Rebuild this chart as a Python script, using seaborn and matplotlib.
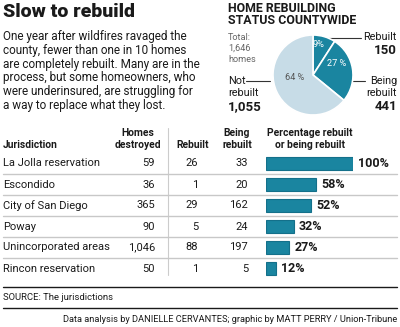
import matplotlib
matplotlib.use("Agg")
import matplotlib.pyplot as plt
import seaborn as sns
import pandas as pd

# ---- data ----
jurisdictions = ["La Jolla reservation", "Escondido", "City of San Diego", "Poway",
                 "Unincorporated areas", "Rincon reservation"]
destroyed = ["59", "36", "365", "90", "1,046", "50"]
rebuilt = ["26", "1", "29", "5", "88", "1"]
being_rebuilt = ["33", "20", "162", "24", "197", "5"]
pct = [100, 58, 52, 32, 27, 12]

pie_labels = ["Rebuilt", "Being rebuilt", "Not rebuilt"]
pie_values = [150, 441, 1055]
pie_pct_text = ["9%", "27 %", "64 %"]

sns.set_theme(style="white")
plt.rcParams["font.family"] = ["Roboto", "DejaVu Sans"]

W, H = 400, 327
fig = plt.figure(figsize=(4, 3.27), dpi=100)
ax = fig.add_axes([0, 0, 1, 1])
ax.set_xlim(0, W)
ax.set_ylim(H, 0)
ax.axis("off")

TEAL = "#1a85a0"
EDGE = "#14708a"
LIGHT = "#c7dce7"
GRAY_TXT = "#666666"
BLK = "#1a1a1a"

# ---- title and intro ----
ax.text(3, 12, "Slow to rebuild", fontsize=14, fontweight="heavy", color=BLK,
        va="center", ha="left")
intro = ["One year after wildfires ravaged the",
         "county, fewer than one in 10 homes",
         "are completely rebuilt. Many are in the",
         "process, but some homeowners, who",
         "were underinsured, are struggling for",
         "a way to replace what they lost."]
for i, line in enumerate(intro):
    ax.text(3, 36.5 + i * 13.8, line, fontsize=8.5, color=BLK, va="center", ha="left")

# ---- pie section ----
ax.text(228, 8, "HOME REBUILDING", fontsize=8.9, fontweight="bold", color=BLK, va="center")
ax.text(228, 21, "STATUS COUNTYWIDE", fontsize=8.9, fontweight="bold", color=BLK, va="center")
for i, t in enumerate(["Total:", "1,646", "homes"]):
    ax.text(228, 37 + i * 11.5, t, fontsize=6.6, color=GRAY_TXT, va="center")

cx, cy, r = 313, 75, 40
pax = fig.add_axes([(cx - r) / W, 1 - (cy + r) / H, 2 * r / W, 2 * r / H])
wedges, _ = pax.pie(pie_values, startangle=90, counterclock=False,
                    colors=[TEAL, TEAL, LIGHT],
                    wedgeprops=dict(edgecolor="white", linewidth=1.2))
pax.set_aspect("equal")
pax.set_xlim(-1, 1)
pax.set_ylim(-1, 1)
pax.text(0.14, 0.76, pie_pct_text[0], fontsize=6.6, color="white", ha="center", va="center")
pax.text(0.6, 0.3, pie_pct_text[1], fontsize=6.6, color="white", ha="center", va="center")
pax.text(-0.45, -0.05, pie_pct_text[2], fontsize=6.6, color="#555555", ha="center", va="center")

# leader lines
ax.plot([325, 361], [38, 38], color="#333333", lw=0.8)
ax.plot([352, 365], [81, 81], color="#333333", lw=0.8)
ax.plot([246, 270], [81, 81], color="#333333", lw=0.8)
ax.text(397, 37, "Rebuilt", fontsize=7.8, color=BLK, ha="right", va="center")
ax.text(397, 50.5, "150", fontsize=9.5, fontweight="bold", color=BLK, ha="right", va="center")
ax.text(397, 81, "Being", fontsize=7.8, color=BLK, ha="right", va="center")
ax.text(397, 93, "rebuilt", fontsize=7.8, color=BLK, ha="right", va="center")
ax.text(397, 107, "441", fontsize=9.5, fontweight="bold", color=BLK, ha="right", va="center")
ax.text(228, 81, "Not", fontsize=7.8, color=BLK, ha="left", va="center")
ax.text(228, 93, "rebuilt", fontsize=7.8, color=BLK, ha="left", va="center")
ax.text(228, 107, "1,055", fontsize=9.5, fontweight="bold", color=BLK, ha="left", va="center")

# ---- table ----
hdr_fs = 7.4
ax.text(3, 145, "Jurisdiction", fontsize=hdr_fs, fontweight="bold", color=BLK, va="center")
ax.text(138, 133, "Homes", fontsize=hdr_fs, fontweight="bold", color=BLK, va="center", ha="center")
ax.text(138, 145, "destroyed", fontsize=hdr_fs, fontweight="bold", color=BLK, va="center", ha="center")
ax.text(193, 145, "Rebuilt", fontsize=hdr_fs, fontweight="bold", color=BLK, va="center", ha="center")
ax.text(237, 133, "Being", fontsize=hdr_fs, fontweight="bold", color=BLK, va="center", ha="center")
ax.text(237, 145, "rebuilt", fontsize=hdr_fs, fontweight="bold", color=BLK, va="center", ha="center")
ax.text(310, 133, "Percentage rebuilt", fontsize=hdr_fs, fontweight="bold", color=BLK, va="center", ha="center")
ax.text(310, 145, "or being rebuilt", fontsize=hdr_fs, fontweight="bold", color=BLK, va="center", ha="center")

ax.plot([168, 168], [128, 275], color="#cccccc", lw=0.8)

row_y0, row_h = 163.5, 21
for i, name in enumerate(jurisdictions):
    y = row_y0 + i * row_h
    ax.text(3, y, name, fontsize=8.0, color=BLK, va="center")
    ax.text(155, y, destroyed[i], fontsize=8.0, color=BLK, va="center", ha="right")
    ax.text(198, y, rebuilt[i], fontsize=8.0, color=BLK, va="center", ha="right")
    ax.text(248, y, being_rebuilt[i], fontsize=8.0, color=BLK, va="center", ha="right")
    if i < len(jurisdictions) - 1:
        ax.plot([3, 397], [y + 10.5, y + 10.5], color="#c8c8c8", lw=1.0)

# bars via seaborn
bx0, bx1 = 266, 353
top = row_y0 - row_h / 2
bax = fig.add_axes([bx0 / W, 1 - (top + row_h * 6) / H, (bx1 - bx0) / W, row_h * 6 / H])
df = pd.DataFrame({"jur": jurisdictions, "pct": pct})
sns.barplot(data=df, x="pct", y="jur", ax=bax, color=TEAL, width=0.62,
            edgecolor=EDGE, linewidth=0.8, saturation=1, orient="h")
bax.set_xlim(0, 100)
bax.set_ylim(5.5, -0.5)
bax.axis("off")
for i, v in enumerate(pct):
    bax.text(v + 5.5, i, f"{v}%", fontsize=9.0, fontweight="bold", color=BLK,
             va="center", ha="left", clip_on=False)

# ---- footer ----
ax.plot([3, 397], [287, 287], color=BLK, lw=1.0)
ax.text(3, 297.5, "SOURCE: The jurisdictions", fontsize=6.8, color=BLK, va="center")
ax.plot([3, 397], [308, 308], color=BLK, lw=1.0)
ax.text(397, 319, "Data analysis by DANIELLE CERVANTES; graphic by MATT PERRY / Union-Tribune",
        fontsize=6.7, color=BLK, va="center", ha="right")

fig.savefig("out.png", dpi=100)
